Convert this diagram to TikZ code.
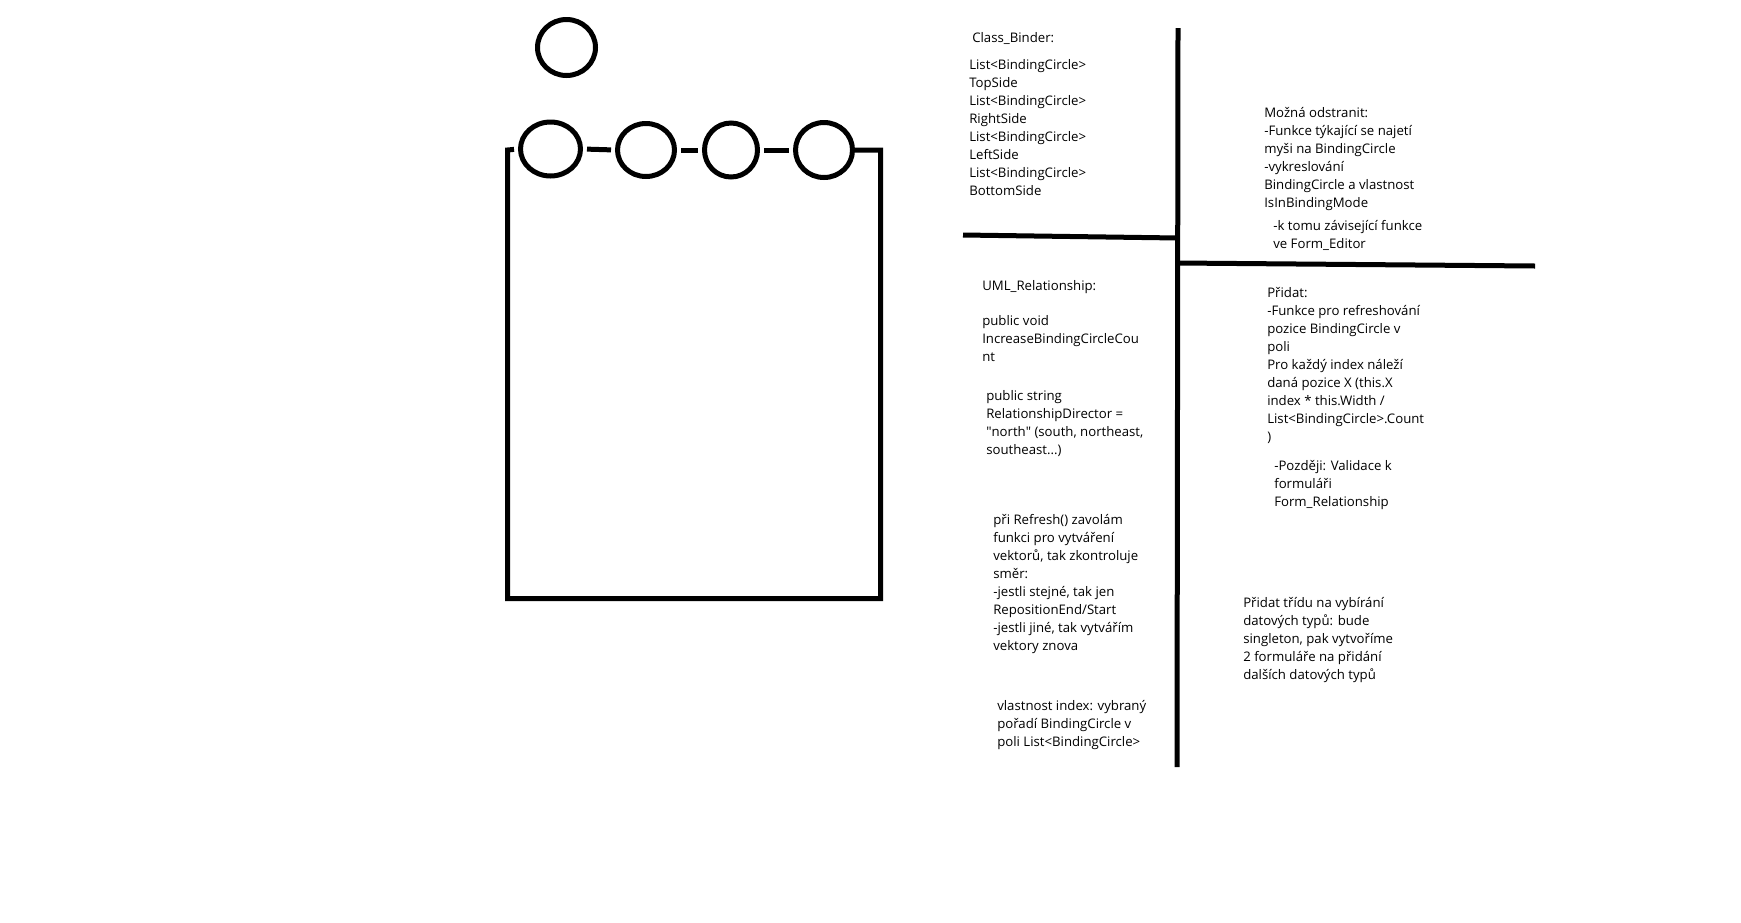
\documentclass[tikz,border=0pt]{standalone}
\usepackage{fontspec}
\setmainfont{Open Sans}
\usetikzlibrary{shapes.geometric}

\tikzset{
	pen/.style={line width=3.75pt},
	gap/.style={pen, shorten <=3pt, shorten >=3pt},
	bcircle/.style={draw, ellipse, line width=3.75pt, inner sep=0pt},
	% anchored at the baseline of the last line
	note/.style={anchor=base west, inner sep=0pt, align=left,
		font=\fontsize{9.9pt}{13.5pt}\selectfont}
}

\begin{document}
\begin{tikzpicture}[x=0.75pt,y=-0.75pt]
	%\draw[help lines] (0,0) grid (1741,922);
	\useasboundingbox (0,0) rectangle (1741,922);

	\path
	coordinate (tl) at (507.5,150)
	coordinate (bl) at (507.5,598.5)
	coordinate (br) at (880.5,598.5)
	coordinate (tr) at (880.5,150)
	coordinate (vtop) at (1178,28)
	coordinate (vbot) at (1177,767)
	coordinate (hl1) at (963,235)
	coordinate (hl2) at (1178,238)
	coordinate (hr1) at (1178,263)
	coordinate (hr2) at (1535,266)
	;

	% binding circles
	\node[bcircle, minimum width=43.5pt, minimum height=42pt] (bc0) at (566.5,47.5) {};
	\node[bcircle, minimum width=45pt, minimum height=40.5pt] (bc1) at (550.5,149) {};
	\node[bcircle, minimum width=42.75pt, minimum height=39.75pt] (bc2) at (646,150) {};
	\node[bcircle, minimum width=39.75pt, minimum height=40.5pt] (bc3) at (731,150) {};
	\node[bcircle, minimum width=42.75pt, minimum height=41.25pt] (bc4) at (824,150) {};

	% class box
	\draw[pen, shorten <=3pt] (bc1.west) -- (tl) -- (bl) -- (br) -- (tr) -- (bc4.east);
	\draw[gap] (bc1.east) -- (bc2.west);
	\draw[gap] (bc2.east) -- (bc3.west);
	\draw[gap] (bc3.east) -- (bc4.west);

	% dividing lines
	\draw[pen] (vtop) -- (vbot);
	\draw[pen] (hl1) -- (hl2);
	\draw[pen] (hr1) -- (hr2);

	% notes
	\node[note] (binder) at (972,42) {Class\_Binder:};
	\node[note] (sides) at (969,195) {List<BindingCircle>\\TopSide\\List<BindingCircle>\\RightSide\\List<BindingCircle>\\LeftSide\\List<BindingCircle>\\BottomSide};
	\node[note] (odstr) at (1264,207) {Možná odstranit:\\-Funkce týkající se najetí\\myši na BindingCircle\\-vykreslování\\BindingCircle a vlastnost\\IsInBindingMode};
	\node[note] (funkce) at (1273,248) {-k tomu závisející funkce\\ve Form\_Editor};
	\node[note] (uml) at (982,290) {UML\_Relationship:};
	\node[note] (increase) at (982,361) {public void\\IncreaseBindingCircleCou\\nt};
	\node[note] (director) at (986,454) {public string\\RelationshipDirector =\\\textquotedbl north\textquotedbl{} (south, northeast,\\southeast...)};
	\node[note] (refresh) at (993,650) {při Refresh() zavolám\\funkci pro vytváření\\vektorů, tak zkontroluje\\směr:\\-jestli stejné, tak jen\\RepositionEnd/Start\\-jestli jiné, tak vytvářím\\vektory znova};
	\node[note] (index) at (997,746) {vlastnost index: vybraný\\pořadí BindingCircle v\\poli List<BindingCircle>};
	\node[note] (pridat) at (1267,441) {Přidat:\\-Funkce pro refreshování\\pozice BindingCircle v\\poli\\Pro každý index náleží\\daná pozice X (this.X\\index * this.Width /\\List<BindingCircle>.Count\\)};
	\node[note] (pozdeji) at (1274,506) {-Později: Validace k\\formuláři\\Form\_Relationship};
	\node[note] (tridu) at (1243,679) {Přidat třídu na vybírání\\datových typů: bude\\singleton, pak vytvoříme\\2 formuláře na přidání\\dalších datových typů};

\end{tikzpicture}
\end{document}
